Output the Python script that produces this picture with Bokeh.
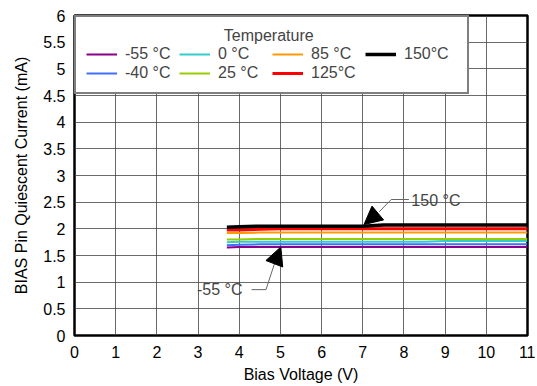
from bokeh.plotting import figure
from bokeh.models import (Legend, LegendItem, Label, Arrow, NormalHead, FixedTicker,
                          ColumnDataSource)
from bokeh.embed import file_html
from bokeh.resources import INLINE

# ---------------- data ----------------
bias_v = [3.7, 4.0, 4.5, 5.0, 5.5, 6.0, 6.5, 7.0, 7.5, 8.0, 8.5, 9.0, 9.5, 10.0, 10.5, 11.0]
i_m55 = [1.65, 1.66, 1.66, 1.66, 1.66, 1.66, 1.66, 1.66, 1.66, 1.66, 1.66, 1.66, 1.66, 1.66, 1.66, 1.66]
i_m40 = [1.69, 1.70, 1.71, 1.71, 1.71, 1.71, 1.71, 1.71, 1.71, 1.71, 1.71, 1.71, 1.71, 1.71, 1.71, 1.71]
i_0 = [1.75, 1.76, 1.76, 1.76, 1.76, 1.76, 1.76, 1.76, 1.76, 1.76, 1.76, 1.77, 1.77, 1.77, 1.77, 1.77]
i_25 = [1.80, 1.80, 1.81, 1.81, 1.81, 1.81, 1.81, 1.81, 1.81, 1.81, 1.81, 1.81, 1.81, 1.81, 1.81, 1.81]
i_85 = [1.92, 1.92, 1.93, 1.93, 1.93, 1.93, 1.93, 1.93, 1.93, 1.93, 1.93, 1.93, 1.93, 1.93, 1.93, 1.93]
i_125 = [1.98, 1.98, 1.99, 2.00, 2.00, 2.00, 2.00, 2.00, 2.00, 2.00, 2.00, 2.00, 2.00, 2.00, 2.00, 2.00]
i_150 = [2.03, 2.04, 2.05, 2.05, 2.05, 2.05, 2.05, 2.05, 2.07, 2.07, 2.07, 2.07, 2.07, 2.07, 2.07, 2.07]

series_labels = ["-55 °C", "-40 °C", "0 °C", "25 °C", "85 °C", "125°C", "150°C"]
series_values = [i_m55, i_m40, i_0, i_25, i_85, i_125, i_150]
series_colors = ["#8B008B", "#3F6FFF", "#33CCCC", "#99CC00", "#FF9900", "#FF0000", "#000000"]
series_widths = [2, 2, 2, 2, 2, 3, 3.5]
legend_title = "Temperature"

x_ticks = list(range(0, 12))
y_ticks = [0, 0.5, 1, 1.5, 2, 2.5, 3, 3.5, 4, 4.5, 5, 5.5, 6]

FONT = "Liberation Sans"
FS = "16px"

p = figure(width=535, height=384, x_range=(0, 11), y_range=(0, 6),
           output_backend="svg", toolbar_location=None,
           min_border_left=74, min_border_top=15, min_border_right=8, min_border_bottom=49)
p.frame_width = 453
p.frame_height = 320

p.outline_line_color = "black"
p.outline_line_width = 2.5
p.background_fill_color = "white"

for ax in (p.xaxis[0], p.yaxis[0]):
    ax.axis_line_color = None
    ax.major_tick_line_color = None
    ax.minor_tick_line_color = None
    ax.major_label_text_font = FONT
    ax.major_label_text_font_size = FS
    ax.major_label_text_color = "black"
    ax.axis_label_text_font = FONT
    ax.axis_label_text_font_size = FS
    ax.axis_label_text_font_style = "normal"
    ax.axis_label_text_color = "black"

p.xaxis[0].ticker = FixedTicker(ticks=x_ticks)
p.yaxis[0].ticker = FixedTicker(ticks=y_ticks)
p.xaxis[0].major_label_overrides = {t: str(t) for t in x_ticks}
p.yaxis[0].major_label_overrides = {t: (str(int(t)) if float(t).is_integer() else str(t)) for t in y_ticks}
p.xaxis[0].axis_label = "Bias Voltage (V)"
p.yaxis[0].axis_label = "BIAS Pin Quiescent Current (mA)"
p.xaxis[0].major_label_standoff = 4
p.xaxis[0].axis_label_standoff = 5
p.yaxis[0].major_label_standoff = 3
p.yaxis[0].axis_label_standoff = 10

p.grid.grid_line_color = "#444444"
p.grid.grid_line_width = 0.8
p.xgrid.ticker = FixedTicker(ticks=x_ticks)
p.ygrid.ticker = FixedTicker(ticks=y_ticks)

renderers = []
for lab, vals, col, w in zip(series_labels, series_values, series_colors, series_widths):
    src = ColumnDataSource(dict(x=bias_v, y=vals))
    r = p.line("x", "y", source=src, line_color=col, line_width=w)
    renderers.append(r)

# legend (column-major, 2 rows); title centred using leading no-break spaces
items = [LegendItem(label=l, renderers=[r]) for l, r in zip(series_labels, renderers)]
legend = Legend(items=items, location="top_left", orientation="vertical", nrows=2,
                title="\u00a0" * 31 + legend_title, title_text_font=FONT,
                title_text_font_size=FS, title_text_font_style="normal", title_standoff=0,
                label_text_font=FONT, label_text_font_size=FS,
                glyph_width=31, glyph_height=14, label_standoff=8, label_width=53,
                label_height=16, spacing=1, padding=10, margin=0,
                border_line_color="black", border_line_width=2.5,
                background_fill_color="white", background_fill_alpha=1)
p.add_layout(legend)

# annotations
ann_150_text = (8.18, 2.53)
ann_150_leader = ([8.12, 7.69, 7.4], [2.55, 2.55, 2.32])
ann_150_tip = (7.03, 2.08)
ann_m55_text = (4.08, 0.86)
ann_m55_leader = ([4.3, 4.65, 4.87], [0.86, 0.86, 1.38])
ann_m55_tip = (5.01, 1.66)

p.line(ann_150_leader[0], ann_150_leader[1], line_color="#666666", line_width=1)
p.add_layout(Arrow(end=NormalHead(size=18, fill_color="black", line_color="black"),
                   x_start=ann_150_leader[0][-1], y_start=ann_150_leader[1][-1],
                   x_end=ann_150_tip[0], y_end=ann_150_tip[1], line_width=0))
p.add_layout(Label(x=ann_150_text[0], y=ann_150_text[1], text="150 °C", text_align="left",
                   text_baseline="middle", text_font=FONT, text_font_size=FS))

p.line(ann_m55_leader[0], ann_m55_leader[1], line_color="#666666", line_width=1)
p.add_layout(Arrow(end=NormalHead(size=18, fill_color="black", line_color="black"),
                   x_start=ann_m55_leader[0][-1], y_start=ann_m55_leader[1][-1],
                   x_end=ann_m55_tip[0], y_end=ann_m55_tip[1], line_width=0))
p.add_layout(Label(x=ann_m55_text[0], y=ann_m55_text[1], text="-55 °C", text_align="right",
                   text_baseline="middle", text_font=FONT, text_font_size=FS))

open("out.html", "w").write(file_html(p, INLINE))
